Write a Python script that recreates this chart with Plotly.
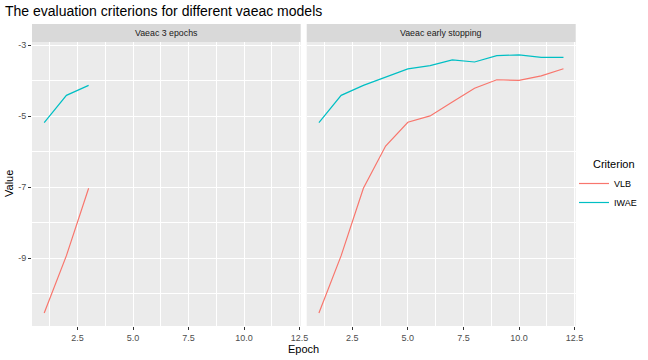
import plotly.graph_objects as go

# ---- data ----
epochs_3 = [1, 2, 3]
vlb_3 = [-10.55, -8.93, -7.03]
iwae_3 = [-5.18, -4.41, -4.13]

epochs_es = [1, 2, 3, 4, 5, 6, 7, 8, 9, 10, 11, 12]
vlb_es = [-10.55, -8.93, -7.03, -5.84, -5.17, -4.99, -4.60, -4.21, -3.97, -3.99, -3.86, -3.66]
iwae_es = [-5.18, -4.41, -4.13, -3.89, -3.665, -3.57, -3.41, -3.47, -3.29, -3.27, -3.34, -3.34]

panel_titles = ["Vaeac 3 epochs", "Vaeac early stopping"]
series_names = ["VLB", "IWAE"]
series_colors = ["#F8766D", "#00BFC4"]

y_tick_vals = [-9, -7, -5, -3]
y_tick_text = ["-9", "-7", "-5", "-3"]
y_minor_vals = [-10, -8, -6, -4]
x_tick_vals = [2.5, 5, 7.5, 10, 12.5]
x_tick_text = ["2.5", "5.0", "7.5", "10.0", "12.5"]
x_minor_vals = [1.25, 3.75, 6.25, 8.75, 11.25]

# ---- layout helpers (pixels -> paper) ----
W, H = 648, 360
def px(x):
    return x / W
def py(y):
    return 1 - y / H

panel_top, panel_bot = 42, 326
strip_top = 24
panels_x = [(32, 300.7), (306.7, 575.7)]

FONT = "Liberation Sans, Arial, sans-serif"

fig = go.Figure()

data_sets = [(epochs_3, vlb_3, iwae_3), (epochs_es, vlb_es, iwae_es)]
for i, (ep, vlb, iwae) in enumerate(data_sets):
    xa = "x" if i == 0 else "x2"
    ya = "y" if i == 0 else "y2"
    for name, vals, col in zip(series_names, [vlb, iwae], series_colors):
        fig.add_trace(go.Scatter(
            x=ep, y=vals, mode="lines", name=name,
            line=dict(color=col, width=1.2),
            xaxis=xa, yaxis=ya, showlegend=(i == 0), legendgroup=name,
        ))

xrange = [0.45, 12.55]
yrange = [-10.914, -2.906]

common_x = dict(
    range=xrange, tickmode="array", tickvals=x_tick_vals, ticktext=x_tick_text,
    showgrid=True, gridcolor="white", gridwidth=1.1, zeroline=False,
    ticks="outside", ticklen=3, tickcolor="#333333", tickwidth=1,
    tickfont=dict(family=FONT, size=9, color="#4D4D4D"),
    showline=False,
    minor=dict(tickmode="array", tickvals=x_minor_vals, showgrid=True,
               gridcolor="white", gridwidth=0.55, ticks=""),
)
common_y = dict(
    range=yrange, tickmode="array", tickvals=y_tick_vals, ticktext=y_tick_text,
    showgrid=True, gridcolor="white", gridwidth=1.1, zeroline=False,
    ticks="outside", ticklen=3, tickcolor="#333333", tickwidth=1,
    tickfont=dict(family=FONT, size=9, color="#4D4D4D"),
    showline=False,
    minor=dict(tickmode="array", tickvals=y_minor_vals, showgrid=True,
               gridcolor="white", gridwidth=0.55, ticks=""),
)

fig.update_layout(
    width=W, height=H,
    margin=dict(l=0, r=0, t=0, b=0, autoexpand=False),
    paper_bgcolor="white", plot_bgcolor="#EBEBEB",
    font=dict(family=FONT, color="black"),
    xaxis=dict(domain=[px(panels_x[0][0]), px(panels_x[0][1])], anchor="y", **common_x),
    xaxis2=dict(domain=[px(panels_x[1][0]), px(panels_x[1][1])], anchor="y2", **common_x),
    yaxis=dict(domain=[py(panel_bot), py(panel_top)], anchor="x", **common_y),
    yaxis2=dict(domain=[py(panel_bot), py(panel_top)], anchor="x2", showticklabels=False,
                **{k: v for k, v in common_y.items() if k not in ("tickfont",)}),
    legend=dict(
        x=px(574), xanchor="left", y=py(169), yanchor="top",
        font=dict(family=FONT, size=9, color="black"),
        bgcolor="rgba(0,0,0,0)", itemwidth=30, tracegroupgap=0,
    ),
    title=dict(text="The evaluation criterions for different vaeac models",
               x=px(5), xanchor="left", y=py(11), yanchor="middle",
               font=dict(family=FONT, size=14, color="black")),
)
fig.update_yaxes(ticks="", selector=dict(anchor="x2"))

shapes = []
annotations = []
for (x0, x1), t in zip(panels_x, panel_titles):
    shapes.append(dict(type="rect", xref="paper", yref="paper",
                       x0=px(x0), x1=px(x1), y0=py(panel_top), y1=py(strip_top),
                       fillcolor="#D9D9D9", line=dict(width=0), layer="below"))
    annotations.append(dict(text=t, xref="paper", yref="paper",
                            x=px((x0 + x1) / 2), y=py((strip_top + panel_top) / 2),
                            xanchor="center", yanchor="middle", showarrow=False,
                            font=dict(family=FONT, size=8.8, color="#1A1A1A")))
annotations.append(dict(text="Criterion", xref="paper", yref="paper",
                        x=px(591), y=py(164), xanchor="left", yanchor="middle",
                        showarrow=False, font=dict(family=FONT, size=11, color="black")))
annotations.append(dict(text="Epoch", xref="paper", yref="paper",
                        x=px((panels_x[0][0] + panels_x[1][1]) / 2), y=py(349),
                        xanchor="center", yanchor="middle", showarrow=False,
                        font=dict(family=FONT, size=11, color="black")))
annotations.append(dict(text="Value", xref="paper", yref="paper",
                        x=px(9), y=py((panel_top + panel_bot) / 2), textangle=-90,
                        xanchor="center", yanchor="middle", showarrow=False,
                        font=dict(family=FONT, size=11, color="black")))
fig.update_layout(shapes=shapes, annotations=annotations)

fig.write_html("out.html", config={"displayModeBar": False},
               post_script="document.body.style.margin='0';document.body.style.overflow='hidden';")
